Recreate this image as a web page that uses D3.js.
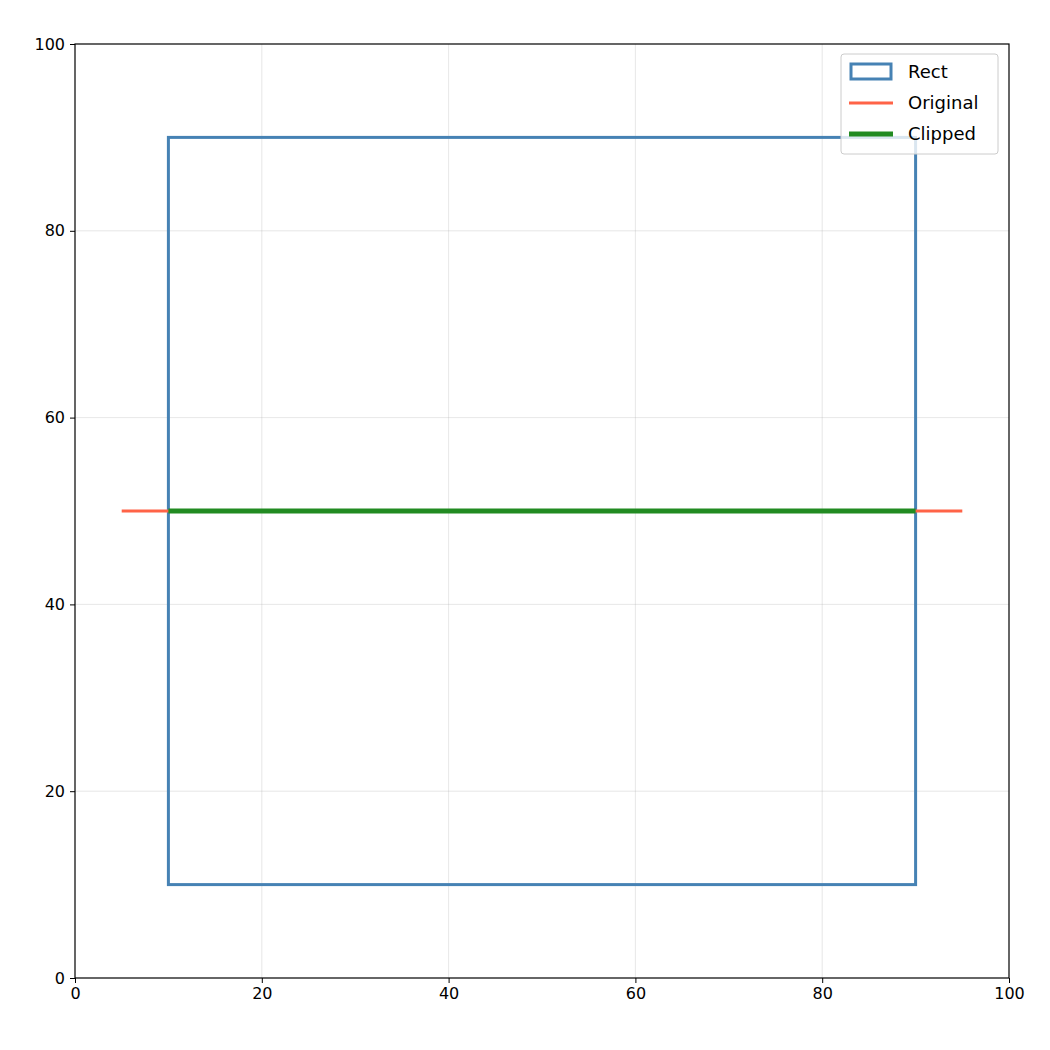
<!DOCTYPE html><html><head><script src="https://cdn.jsdelivr.net/npm/d3@7"></script>
<style>body{margin:0;background:#fff}</style></head><body><svg id="c" width="1050" height="1050"></svg>
<script>
const ticks=[0,20,40,60,80,100];
const rectX=[10,90], rectY=[10,90];
const originalX=[5,95], originalY=[50,50];
const clippedX=[10,90], clippedY=[50,50];
const legendLabels=["Rect","Original","Clipped"];
const svg=d3.select("#c");
const L=75,R=1009,T=44,B=978;
const x=d3.scaleLinear().domain([0,100]).range([L,R]);
const y=d3.scaleLinear().domain([0,100]).range([B,T]);
const g=svg.append("g");
ticks.slice(1,-1).forEach(t=>{
 g.append("line").attr("x1",x(t)).attr("x2",x(t)).attr("y1",T).attr("y2",B).attr("stroke","#b0b0b0").attr("stroke-opacity",0.3).attr("stroke-width",1);
 g.append("line").attr("y1",y(t)).attr("y2",y(t)).attr("x1",L).attr("x2",R).attr("stroke","#b0b0b0").attr("stroke-opacity",0.3).attr("stroke-width",1);
});
g.append("rect").attr("x",x(rectX[0])).attr("y",y(rectY[1])).attr("width",x(rectX[1])-x(rectX[0])).attr("height",y(rectY[0])-y(rectY[1])).attr("fill","none").attr("stroke","#4682b4").attr("stroke-width",3);
g.append("line").attr("x1",x(originalX[0])).attr("x2",x(originalX[1])).attr("y1",y(originalY[0])).attr("y2",y(originalY[1])).attr("stroke","#ff6347").attr("stroke-width",2.8);
g.append("line").attr("x1",x(clippedX[0])).attr("x2",x(clippedX[1])).attr("y1",y(clippedY[0])).attr("y2",y(clippedY[1])).attr("stroke","#228b22").attr("stroke-width",5);
const styleTicks=a=>a.selectAll("text").style("font-size","16px").style("font-family","'DejaVu Sans', sans-serif").attr("fill","#000");
svg.append("g").attr("transform",`translate(0,${B})`).call(d3.axisBottom(x).tickValues(ticks).tickSize(5).tickPadding(5)).call(styleTicks);
svg.append("g").attr("transform",`translate(${L},0)`).call(d3.axisLeft(y).tickValues(ticks).tickSize(5).tickPadding(5)).call(styleTicks);
svg.selectAll(".domain").remove();
svg.append("rect").attr("x",L).attr("y",T).attr("width",R-L).attr("height",B-T).attr("fill","none").attr("stroke","#000").attr("stroke-width",1.2);
const lg=svg.append("g");
lg.append("rect").attr("x",841).attr("y",54).attr("width",157).attr("height",100).attr("rx",3).attr("fill","#fff").attr("fill-opacity",0.8).attr("stroke","#ccc");
lg.append("rect").attr("x",851).attr("y",64).attr("width",40).attr("height",15).attr("fill","none").attr("stroke","#4682b4").attr("stroke-width",3);
lg.append("line").attr("x1",849).attr("x2",893).attr("y1",103).attr("y2",103).attr("stroke","#ff6347").attr("stroke-width",2.8);
lg.append("line").attr("x1",849).attr("x2",893).attr("y1",134).attr("y2",134).attr("stroke","#228b22").attr("stroke-width",5);
legendLabels.forEach((l,i)=>lg.append("text").attr("x",908).attr("y",78+i*31).style("font-size","18px").style("font-family","'DejaVu Sans', sans-serif").text(l));
</script></body></html>
